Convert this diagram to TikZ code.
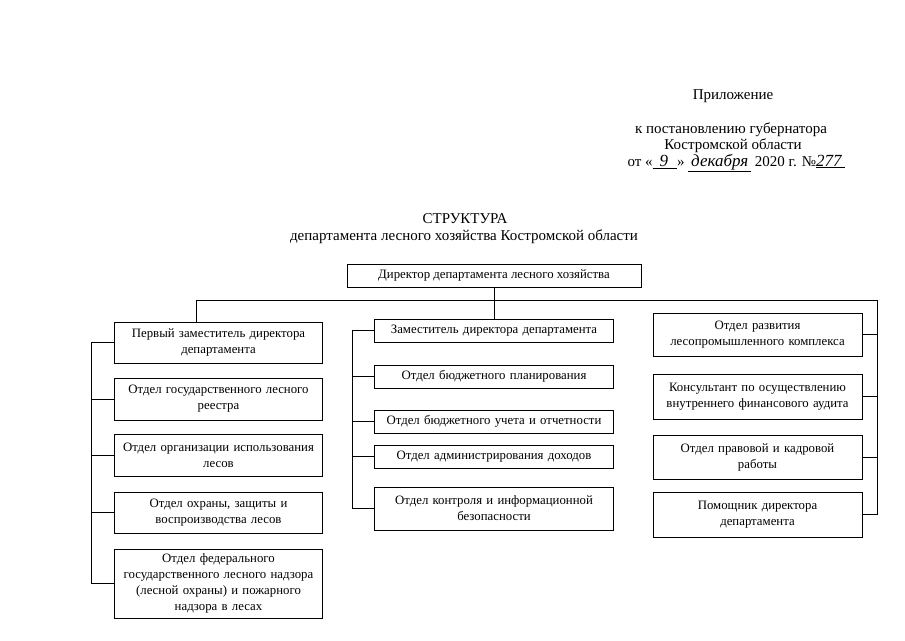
\documentclass[tikz,border=0pt]{standalone}
\usepackage{fontspec}
\setmainfont{Liberation Serif}
\usetikzlibrary{positioning}

\tikzset{
  unit/.style={draw, line width=0.75pt, align=center, inner sep=2pt,
    font=\fontsize{12.8}{16}\selectfont},
  leftbox/.style={unit, minimum width=208pt, text width=202pt},
  midbox/.style={unit, minimum width=239pt, text width=233pt},
  rightbox/.style={unit, minimum width=209pt, text width=203pt},
  heading/.style={font=\fontsize{15}{17}\selectfont, inner sep=0pt},
  link/.style={line width=0.75pt}
}
\newcommand{\handw}[1]{\underline{\fontsize{17}{17}\selectfont\textit{#1}}}

\begin{document}
\begin{tikzpicture}[x=1pt,y=-1pt]

\useasboundingbox (0,0) rectangle (905,640);

% header
\node[heading] (pril) at (733,96) {Приложение};
\node[heading] (post) at (731,130) {к постановлению губернатора};
\node[heading] (obl) at (733,146) {Костромской области};
\node[heading] (date) at (736,163)
  {от «\handw{\hspace{7pt}9\hspace{9pt}}» \handw{\,декабря\,} 2020 г. №\handw{277\,}};

\node[heading] (title) at (465,219) {СТРУКТУРА};
\node[heading] (subtitle) at (464,237) {департамента лесного хозяйства Костромской области};

% director
\node[unit, minimum width=294pt, minimum height=23pt] (dir) at (494,275.5)
  {Директор департамента лесного хозяйства};

% left column
\node[leftbox, minimum height=41pt] (perv) at (218.5,342.5)
  {Первый заместитель директора\\департамента};
\node[leftbox, minimum height=42pt] (reestr) at (218.5,399)
  {Отдел государственного лесного\\реестра};
\node[leftbox, minimum height=42pt] (isp) at (218.5,455)
  {Отдел организации использования\\лесов};
\node[leftbox, minimum height=41pt] (ohr) at (218.5,512.5)
  {Отдел охраны, защиты и\\воспроизводства лесов};
\node[leftbox, minimum height=69pt] (fed) at (218.5,583.5)
  {Отдел федерального\\государственного лесного надзора\\(лесной охраны) и пожарного\\надзора в лесах};

% middle column
\node[midbox, minimum height=23pt] (zam) at (494,330.5)
  {Заместитель директора департамента};
\node[midbox, minimum height=23pt] (plan) at (494,376.5)
  {Отдел бюджетного планирования};
\node[midbox, minimum height=23pt] (uchet) at (494,421.5)
  {Отдел бюджетного учета и отчетности};
\node[midbox, minimum height=23pt] (dohod) at (494,456.5)
  {Отдел администрирования доходов};
\node[midbox, minimum height=43pt] (kontr) at (494,508.5)
  {Отдел контроля и информационной\\безопасности};

% right column
\node[rightbox, minimum height=43pt] (razv) at (757.5,334.5)
  {Отдел развития\\лесопромышленного комплекса};
\node[rightbox, minimum height=45pt] (kons) at (757.5,396.5)
  {Консультант по осуществлению\\внутреннего финансового аудита};
\node[rightbox, minimum height=44pt] (prav) at (757.5,457)
  {Отдел правовой и кадровой\\работы};
\node[rightbox, minimum height=45pt] (pom) at (757.5,514.5)
  {Помощник директора\\департамента};

% buses
\coordinate (busL) at (196,300);
\coordinate (busR) at (877,300);
\coordinate (lbus) at (91,300);
\coordinate (mbus) at (352,300);

\draw[link] (dir) -- (zam);
\draw[link] (busL) -- (busR);
\draw[link] (busL) -- (busL |- perv.north);
\draw[link] (busR) -- (busR |- pom.east) -- (pom.east);

\draw[link] (perv.west) -- (lbus |- perv.west) -- (lbus |- fed.west) -- (fed.west);
\foreach \n in {reestr,isp,ohr}
  \draw[link] (\n.west) -- (lbus |- \n.west);

\draw[link] (zam.west) -- (mbus |- zam.west) -- (mbus |- kontr.west) -- (kontr.west);
\foreach \n in {plan,uchet,dohod}
  \draw[link] (\n.west) -- (mbus |- \n.west);

\foreach \n in {razv,kons,prav}
  \draw[link] (\n.east) -- (busR |- \n.east);

\end{tikzpicture}
\end{document}
